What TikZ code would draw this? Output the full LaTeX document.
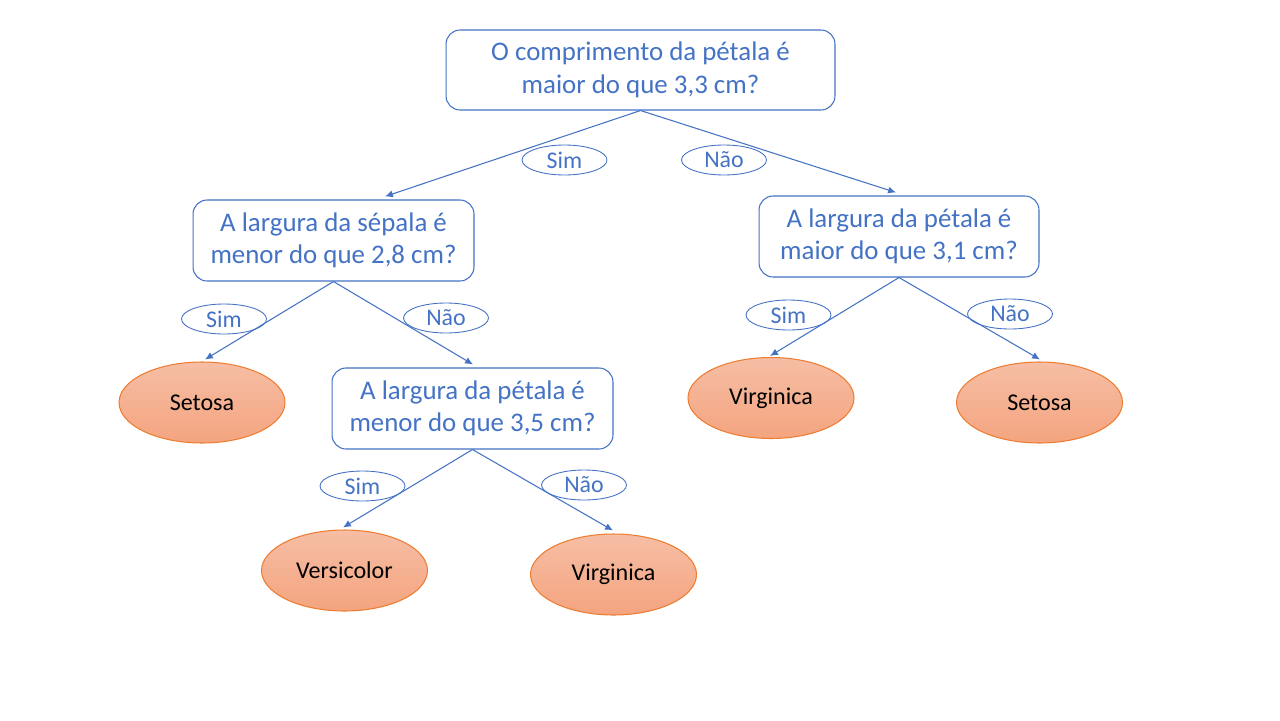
\documentclass[tikz,border=0pt]{standalone}
\usepackage{fontspec}
\setmainfont{Carlito}
\usetikzlibrary{calc,arrows.meta,shapes.geometric}

\definecolor{qblue}{HTML}{4472C4}
\definecolor{leafline}{HTML}{ED7D31}
\definecolor{leaftop}{HTML}{F6BEA5}
\definecolor{leafbot}{HTML}{F4A47F}

\tikzset{
    question/.style={draw=qblue,line width=0.6pt,rounded corners=8pt,align=center,
        text=qblue,font=\fontsize{15.3}{18.5}\selectfont,inner sep=0pt},
    leaf/.style={ellipse,draw=leafline,line width=0.6pt,top color=leaftop,bottom color=leafbot,
        minimum width=3.32cm,minimum height=1.62cm,font=\fontsize{13.7}{16}\selectfont,inner sep=0pt},
    answer/.style={ellipse,draw=qblue,line width=0.5pt,text=qblue,
        minimum width=1.7cm,minimum height=0.6cm,font=\fontsize{13.6}{15}\selectfont,inner sep=0pt},
    branch/.style={draw=qblue,line width=0.6pt,->}
}

\begin{document}
\begin{tikzpicture}[x=0.02cm,y=-0.02cm,>={Latex[length=4.5pt,width=4pt]}]
                \useasboundingbox (0,0) rectangle (1280,720);

                % questions
                \node[question,minimum width=7.78cm,minimum height=1.6cm] (root) at (640.5,70)
                    {O comprimento da pétala é\\maior do que 3,3 cm?};
                \node[question,minimum width=5.62cm,minimum height=1.62cm] (sepala) at (333.5,240.5)
                    {A largura da sépala é\\menor do que 2,8 cm?};
                \node[question,minimum width=5.6cm,minimum height=1.62cm] (petalaR) at (899,236.5)
                    {A largura da pétala é\\maior do que 3,1 cm?};
                \node[question,minimum width=5.62cm,minimum height=1.62cm] (petalaM) at (472.5,408.5)
                    {A largura da pétala é\\menor do que 3,5 cm?};

                % leaves
                \node[leaf] (setosaL) at (202,402.5) {Setosa};
                \node[leaf] (virgR) at (771,398) {Virginica};
                \node[leaf] (setosaR) at (1039.5,402.5) {Setosa};
                \node[leaf] (versi) at (344.5,570.5) {Versicolor};
                \node[leaf] (virgM) at (613.5,574.5) {Virginica};

                % answers
                \node[answer] (simRoot) at (564.5,160) {Sim};
                \node[answer] (naoRoot) at (724,160) {Não};
                \node[answer] (simSep) at (224,319) {Sim};
                \node[answer] (naoSep) at (446,318) {Não};
                \node[answer] (simPetR) at (788.5,315) {Sim};
                \node[answer] (naoPetR) at (1010,314) {Não};
                \node[answer] (simPetM) at (362.5,486) {Sim};
                \node[answer] (naoPetM) at (584,485) {Não};

                % branches
                \draw[branch] (root.south) -- ($(sepala.north)+(51.5,-3)$);
                \draw[branch] (root.south) -- ($(petalaR.north)+(-3,-3)$);
                \draw[branch] (sepala.south) -- ($(setosaL.north)+(3,-2)$);
                \draw[branch] (sepala.south) -- ($(petalaM.north)+(0.5,-3)$);
                \draw[branch] (petalaR.south) -- ($(virgR.north)+(-1,-1)$);
                \draw[branch] (petalaR.south) -- ($(setosaR.north)+(0.5,-2)$);
                \draw[branch] (petalaM.south) -- ($(versi.north)+(-1.5,-2)$);
                \draw[branch] (petalaM.south) -- ($(virgM.north)+(-0.5,-3)$);
\end{tikzpicture}
\end{document}
